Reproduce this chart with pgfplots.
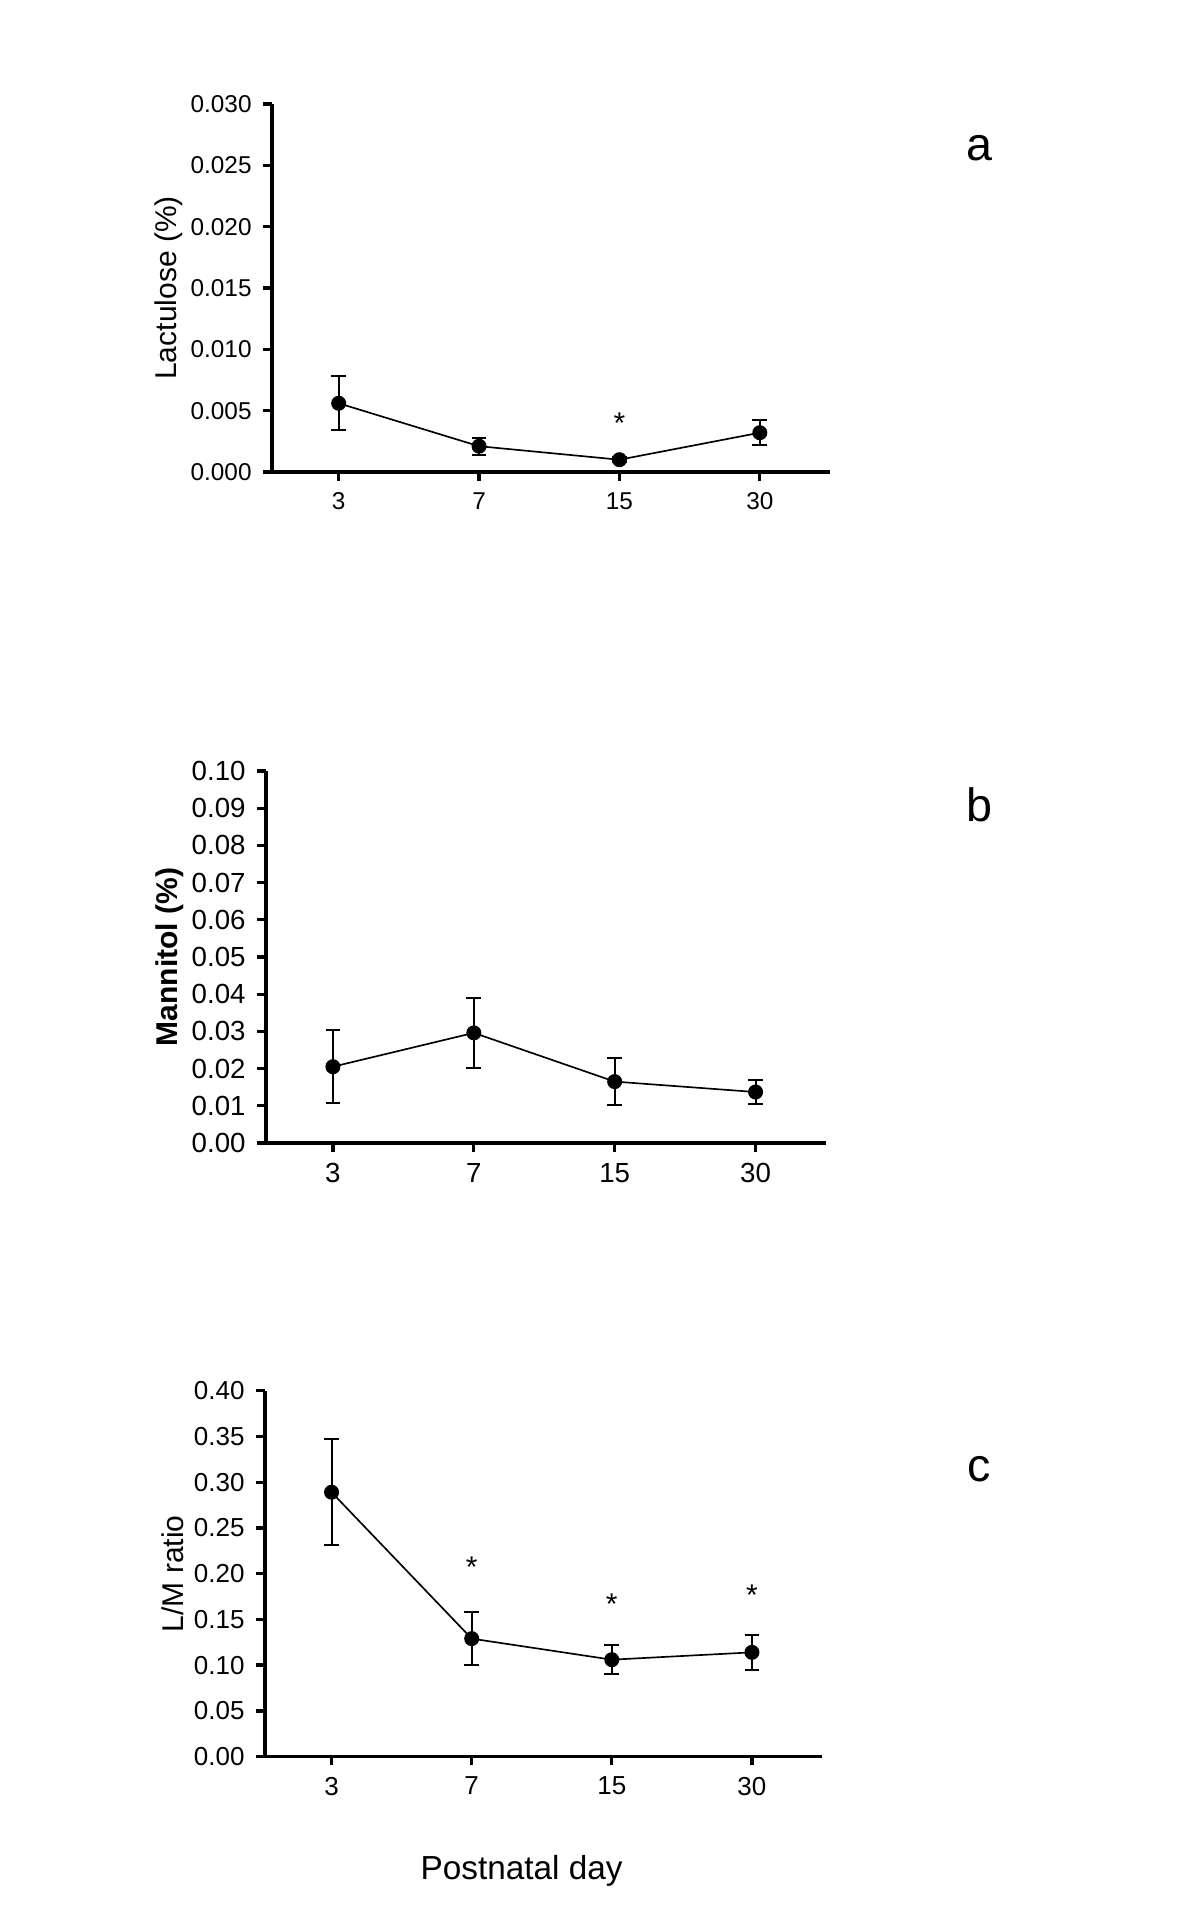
\documentclass[border=0pt]{standalone}
\usepackage{fontspec}
\setmainfont{Liberation Sans}
\usepackage{pgfplots}
\pgfplotsset{compat=1.18}

\pgfplotsset{
  panel/.style={
    scale only axis, clip=false,
    axis x line*=bottom, axis y line*=left,
    axis line style={line width=1.1pt, -},
    xmin=-0.475, xmax=3.5,
    xtick={0,1,2,3}, xticklabels={3,7,15,30},
    tick align=outside, major tick length=2.6pt,
    every tick/.style={black, line width=1.0pt},
    scaled y ticks=false,
    yticklabel style={/pgf/number format/fixed, /pgf/number format/fixed zerofill,
      /pgf/number format/assume math mode=true},
    ylabel style={font=\fontsize{9}{10}\selectfont, at={(axis description cs:0,0.5)}, anchor=center},
  },
  dat/.style={black, line width=0.5pt, mark=*, mark size=2pt,
    error bars/.cd, y dir=both, y explicit,
    error bar style={line width=0.6pt},
    error mark options={rotate=90, mark size=2.2pt, line width=0.6pt}},
}
\tikzset{sigstar/.style={font=\fontsize{9}{10}\selectfont, inner sep=0pt, yshift=-1.6pt}}

\begin{document}
\begin{tikzpicture}
\useasboundingbox (0,0) rectangle (360pt,572.1pt);

% a: lactulose
\begin{axis}[panel, at={(81.6pt,430.5pt)}, anchor=south west,
  width=167.4pt, height=110.4pt,
  ymin=0, ymax=0.030, ytick={0,0.005,0.010,0.015,0.020,0.025,0.030},
  yticklabel style={/pgf/number format/precision=3},
  tick label style={font=\fontsize{7.3}{8}\selectfont},
  ylabel={Lactulose (\%)}, ylabel style={yshift=31pt}]
\addplot[dat] coordinates {
  (0,0.0056) +- (0,0.0022)
  (1,0.0021) +- (0,0.0007)
  (2,0.0010) +- (0,0.0002)
  (3,0.0032) +- (0,0.0010)
};
\node[sigstar] at (axis cs:2,0.0044) {*};
\end{axis}

% b: mannitol
\begin{axis}[panel, at={(79.8pt,229.2pt)}, anchor=south west,
  width=168pt, height=111.6pt,
  ymin=0, ymax=0.10, ytick={0,0.01,0.02,0.03,0.04,0.05,0.06,0.07,0.08,0.09,0.10},
  yticklabel style={/pgf/number format/precision=2},
  tick label style={font=\fontsize{8.3}{9}\selectfont},
  ylabel={\bfseries Mannitol (\%)}, ylabel style={yshift=29pt}]
\addplot[dat] coordinates {
  (0,0.0205) +- (0,0.0098)
  (1,0.0296) +- (0,0.0095)
  (2,0.0165) +- (0,0.0063)
  (3,0.0137) +- (0,0.0032)
};
\end{axis}

% c: L/M ratio
\begin{axis}[panel, at={(79.5pt,45.1pt)}, anchor=south west,
  width=167.1pt, height=109.8pt,
  ymin=0, ymax=0.40, ytick={0,0.05,0.10,0.15,0.20,0.25,0.30,0.35,0.40},
  yticklabel style={/pgf/number format/precision=2},
  tick label style={font=\fontsize{7.8}{9}\selectfont},
  ylabel={L/M ratio}, ylabel style={yshift=27.6pt}]
\addplot[dat] coordinates {
  (0,0.289) +- (0,0.058)
  (1,0.129) +- (0,0.029)
  (2,0.106) +- (0,0.016)
  (3,0.114) +- (0,0.019)
};
\node[sigstar] at (axis cs:1,0.213) {*};
\node[sigstar] at (axis cs:2,0.173) {*};
\node[sigstar] at (axis cs:3,0.182) {*};
\end{axis}

\node[font=\fontsize{14}{16}\selectfont, inner sep=0pt] at (293.7pt,527.7pt) {a};
\node[font=\fontsize{14}{16}\selectfont, inner sep=0pt] at (293.7pt,330.6pt) {b};
\node[font=\fontsize{14}{16}\selectfont, inner sep=0pt] at (293.7pt,131.4pt) {c};
\node[font=\fontsize{10}{12}\selectfont, inner sep=0pt] at (156.5pt,10.8pt) {Postnatal day};
\end{tikzpicture}
\end{document}
